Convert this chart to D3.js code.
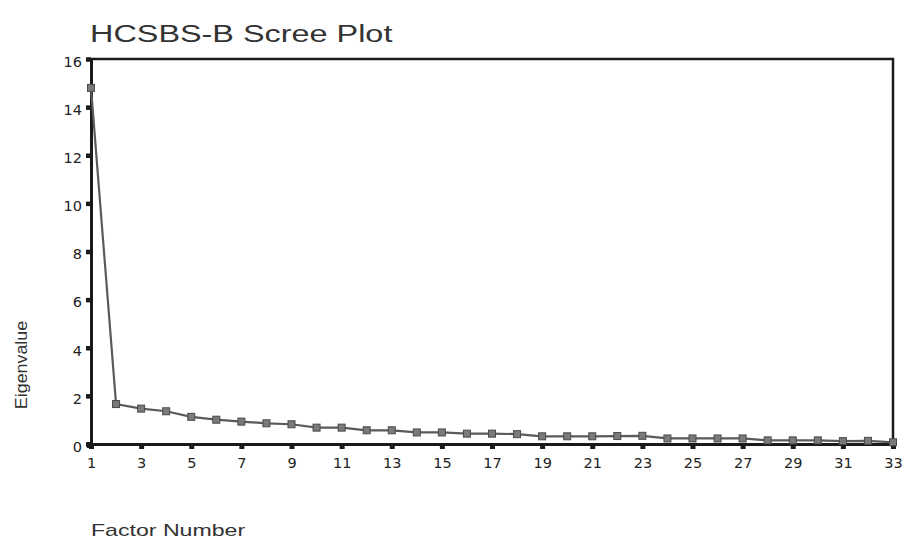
<!DOCTYPE html>
<html>
<head>
<meta charset="utf-8">
<script src="https://cdn.jsdelivr.net/npm/d3@7"></script>
<style>
  html, body { margin: 0; padding: 0; background: #fff; }
  svg { display: block; }
  text { font-family: "Liberation Sans", Arial, Helvetica, sans-serif; fill: #222; }
  .tick text { font-family: "DejaVu Sans", sans-serif; font-size: 14.5px; fill: #222; }
</style>
</head>
<body>
<script>
// Scree plot data: factor numbers and their eigenvalues
const factors = d3.range(1, 34);
const eigenvalues = [
  14.8, 1.66, 1.47, 1.36, 1.13, 1.01, 0.93, 0.86, 0.82, 0.68,
  0.68, 0.57, 0.57, 0.48, 0.48, 0.43, 0.43, 0.41, 0.32, 0.32,
  0.32, 0.33, 0.34, 0.23, 0.23, 0.23, 0.23, 0.15, 0.15, 0.15,
  0.12, 0.13, 0.07
];
const yTicks = [0, 2, 4, 6, 8, 10, 12, 14, 16];
const xTicks = [1, 3, 5, 7, 9, 11, 13, 15, 17, 19, 21, 23, 25, 27, 29, 31, 33];

const W = 905, H = 542;
const plot = { left: 91, right: 893, top: 59, bottom: 444 };

const svg = d3.select("body").append("svg").attr("width", W).attr("height", H);

const x = d3.scaleLinear().domain([1, 33]).range([plot.left, plot.right]);
const y = d3.scaleLinear().domain([0, 16]).range([plot.bottom, plot.top]);

// Title (wide-set face)
svg.append("text")
  .attr("transform", "translate(90,42) scale(1.35,1)")
  .attr("font-size", 24).style("fill", "#333")
  .text("HCSBS-B Scree Plot");

// Frame (top and right edges)
svg.append("path")
  .attr("d", `M${plot.left},${plot.top}H${plot.right}V${plot.bottom}`)
  .attr("fill", "none").attr("stroke", "#1a1a1a").attr("stroke-width", 2.5);

// Y axis
const yAxis = svg.append("g").attr("transform", `translate(${plot.left},0)`)
  .call(d3.axisLeft(y).tickValues(yTicks).tickSize(5).tickSizeOuter(0).tickPadding(4));
yAxis.select(".domain").attr("stroke", "#1a1a1a").attr("stroke-width", 3);
yAxis.selectAll(".tick line").attr("stroke", "#1a1a1a").attr("stroke-width", 4.5);
yAxis.selectAll(".tick text").attr("dy", "0.5em");

// X axis
const xAxis = svg.append("g").attr("transform", `translate(0,${plot.bottom})`)
  .call(d3.axisBottom(x).tickValues(xTicks).tickSize(5).tickSizeOuter(0).tickPadding(9));
xAxis.select(".domain").attr("stroke", "#1a1a1a").attr("stroke-width", 3);
xAxis.selectAll(".tick line").attr("stroke", "#1a1a1a").attr("stroke-width", 5);

// Corner block at the origin
svg.append("rect").attr("x", plot.left - 4).attr("y", plot.bottom - 2).attr("width", 6).attr("height", 6)
  .attr("fill", "#1a1a1a");

// Axis titles
svg.append("text")
  .attr("transform", "translate(27,365) rotate(-90) scale(1.05,1)")
  .attr("text-anchor", "middle").attr("font-size", 17).style("fill", "#333")
  .text("Eigenvalue");
svg.append("text")
  .attr("transform", "translate(91,536) scale(1.36,1)")
  .attr("font-size", 17).style("fill", "#333")
  .text("Factor Number");

// Eigenvalue line
const pts = factors.map((f, i) => [f, eigenvalues[i]]);
svg.append("path")
  .datum(pts)
  .attr("fill", "none").attr("stroke", "#5a5a5a").attr("stroke-width", 2.2)
  .attr("d", d3.line().x(d => x(d[0])).y(d => y(d[1])));

// Square markers
const s = 7;
svg.append("g").selectAll("rect").data(pts).join("rect")
  .attr("x", d => x(d[0]) - s / 2).attr("y", d => y(d[1]) - s / 2)
  .attr("width", s).attr("height", s)
  .attr("fill", "#7a7a7a").attr("stroke", "#4a4a4a").attr("stroke-width", 1);
</script>
</body>
</html>
